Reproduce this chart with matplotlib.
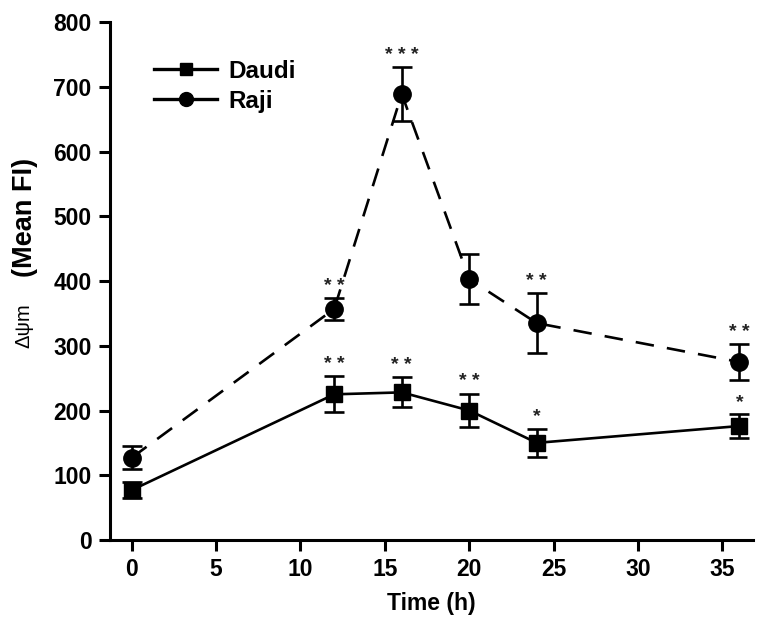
import matplotlib
matplotlib.use("Agg")
import matplotlib.pyplot as plt
from matplotlib.lines import Line2D

plt.rcParams['font.family'] = ['Liberation Sans', 'DejaVu Sans']

# data
time_h = [0, 12, 16, 20, 24, 36]
daudi = [77, 225, 228, 200, 150, 176]
daudi_err = [12, 28, 23, 26, 22, 18]
raji = [127, 357, 689, 403, 335, 275]
raji_err = [18, 17, 42, 39, 46, 28]
daudi_stars = ["", "**", "**", "**", "*", "*"]
raji_stars = ["", "**", "***", "", "**", "**"]

fig = plt.figure(figsize=(7.62, 6.33), dpi=100)
ax = fig.add_axes([0.144, 0.147, 0.844, 0.818])

lw = 1.9
dash = (7, 5)
ax.errorbar(time_h, daudi, yerr=daudi_err, color="black", lw=lw, marker="s",
            ms=11, capsize=7, capthick=lw, elinewidth=lw, zorder=3)
ax.errorbar(time_h, raji, yerr=raji_err, color="black", lw=lw, marker="o",
            ms=12.5, capsize=7, capthick=lw, elinewidth=lw, dashes=dash,
            zorder=3)

# significance stars above the error bars
for x, y, e, s in zip(time_h, daudi, daudi_err, daudi_stars):
    if s:
        ax.text(x, y + e + 5, " ".join(s), ha="center", va="bottom",
                fontsize=14, fontweight="bold", color="#222222")
for x, y, e, s in zip(time_h, raji, raji_err, raji_stars):
    if s:
        ax.text(x, y + e + 5, " ".join(s), ha="center", va="bottom",
                fontsize=14, fontweight="bold", color="#222222")

ax.set_xlim(-1.3, 36.8)
ax.set_ylim(0, 800)
ax.set_xticks(range(0, 36, 5))
ax.set_yticks(range(0, 801, 100))
for side in ["top", "right"]:
    ax.spines[side].set_visible(False)
for side in ["left", "bottom"]:
    ax.spines[side].set_linewidth(2.2)
ax.tick_params(width=2.2, length=8, labelsize=16.5, direction="out", pad=5)
for lab in ax.get_xticklabels() + ax.get_yticklabels():
    lab.set_fontweight("bold")

ax.set_xlabel("Time (h)", fontsize=16.5, fontweight="bold", labelpad=8)

# y label: symbol in normal weight, unit in bold
fig.text(0.031, 0.485, "Δψm", rotation=90, ha="center", va="center",
         fontsize=14.5)
fig.text(0.033, 0.657, "(Mean FI)", rotation=90, ha="center", va="center",
         fontsize=19.5, fontweight="bold")

handles = [
    Line2D([], [], color="black", lw=2.4, marker="s", ms=9),
    Line2D([], [], color="black", lw=2.4, marker="o", ms=10),
]
ax.legend(handles, ["Daudi", "Raji"], loc="upper left",
          bbox_to_anchor=(0.035, 0.97), frameon=False,
          prop={"size": 17.5, "weight": "bold"}, handlelength=2.6,
          handletextpad=0.45, labelspacing=0.3)

fig.savefig("out.png", dpi=100)
